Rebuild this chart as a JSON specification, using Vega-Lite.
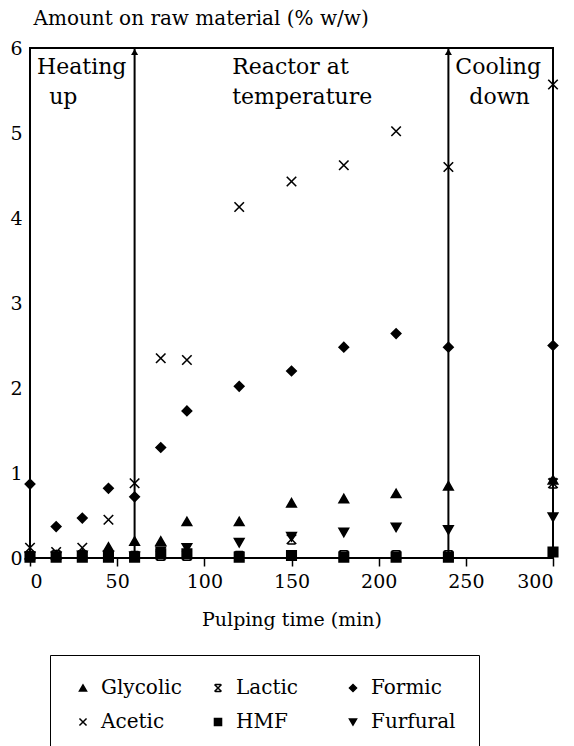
{
  "$schema": "https://vega.github.io/schema/vega-lite/v6.json",
  "width": 523,
  "height": 510,
  "autosize": {"type": "none"},
  "padding": {"left": 30, "top": 48, "right": 21, "bottom": 188},
  "background": "white",
  "config": {
    "view": {"stroke": "black", "strokeWidth": 2},
    "font": "DejaVu Serif",
    "text": {"font": "DejaVu Serif"},
    "axis": {"grid": false, "domain": false, "labelFont": "DejaVu Serif", "titleFont": "DejaVu Serif", "labelColor": "black", "titleColor": "black", "titleFontWeight": "normal", "labelFontSize": 19, "titleFontSize": 19},
    "legend": {"labelFont": "DejaVu Serif", "labelFontSize": 20, "labelColor": "black"}
  },
  "datasets": {
    "series": [
      {"t": 0, "series": "Glycolic", "v": 0.04}, {"t": 15, "series": "Glycolic", "v": 0.04}, {"t": 30, "series": "Glycolic", "v": 0.05}, {"t": 45, "series": "Glycolic", "v": 0.13}, {"t": 60, "series": "Glycolic", "v": 0.2}, {"t": 75, "series": "Glycolic", "v": 0.2}, {"t": 90, "series": "Glycolic", "v": 0.43}, {"t": 120, "series": "Glycolic", "v": 0.43}, {"t": 150, "series": "Glycolic", "v": 0.65}, {"t": 180, "series": "Glycolic", "v": 0.7}, {"t": 210, "series": "Glycolic", "v": 0.76}, {"t": 240, "series": "Glycolic", "v": 0.85}, {"t": 300, "series": "Glycolic", "v": 0.92},
      {"t": 0, "series": "Lactic", "v": 0.02}, {"t": 15, "series": "Lactic", "v": 0.03}, {"t": 30, "series": "Lactic", "v": 0.03}, {"t": 45, "series": "Lactic", "v": 0.02}, {"t": 60, "series": "Lactic", "v": 0.02}, {"t": 75, "series": "Lactic", "v": 0.03}, {"t": 90, "series": "Lactic", "v": 0.03}, {"t": 120, "series": "Lactic", "v": 0.02}, {"t": 150, "series": "Lactic", "v": 0.22}, {"t": 180, "series": "Lactic", "v": 0.03}, {"t": 210, "series": "Lactic", "v": 0.03}, {"t": 240, "series": "Lactic", "v": 0.03}, {"t": 300, "series": "Lactic", "v": 0.88},
      {"t": 0, "series": "Formic", "v": 0.87}, {"t": 15, "series": "Formic", "v": 0.37}, {"t": 30, "series": "Formic", "v": 0.47}, {"t": 45, "series": "Formic", "v": 0.82}, {"t": 60, "series": "Formic", "v": 0.72}, {"t": 75, "series": "Formic", "v": 1.3}, {"t": 90, "series": "Formic", "v": 1.73}, {"t": 120, "series": "Formic", "v": 2.02}, {"t": 150, "series": "Formic", "v": 2.2}, {"t": 180, "series": "Formic", "v": 2.48}, {"t": 210, "series": "Formic", "v": 2.64}, {"t": 240, "series": "Formic", "v": 2.48}, {"t": 300, "series": "Formic", "v": 2.5},
      {"t": 0, "series": "Acetic", "v": 0.12}, {"t": 15, "series": "Acetic", "v": 0.07}, {"t": 30, "series": "Acetic", "v": 0.12}, {"t": 45, "series": "Acetic", "v": 0.45}, {"t": 60, "series": "Acetic", "v": 0.88}, {"t": 75, "series": "Acetic", "v": 2.35}, {"t": 90, "series": "Acetic", "v": 2.33}, {"t": 120, "series": "Acetic", "v": 4.13}, {"t": 150, "series": "Acetic", "v": 4.43}, {"t": 180, "series": "Acetic", "v": 4.62}, {"t": 210, "series": "Acetic", "v": 5.02}, {"t": 240, "series": "Acetic", "v": 4.6}, {"t": 300, "series": "Acetic", "v": 5.57},
      {"t": 0, "series": "HMF", "v": 0.01}, {"t": 15, "series": "HMF", "v": 0.01}, {"t": 30, "series": "HMF", "v": 0.01}, {"t": 45, "series": "HMF", "v": 0.01}, {"t": 60, "series": "HMF", "v": 0.01}, {"t": 75, "series": "HMF", "v": 0.05}, {"t": 90, "series": "HMF", "v": 0.05}, {"t": 120, "series": "HMF", "v": 0.01}, {"t": 150, "series": "HMF", "v": 0.03}, {"t": 180, "series": "HMF", "v": 0.01}, {"t": 210, "series": "HMF", "v": 0.01}, {"t": 240, "series": "HMF", "v": 0.01}, {"t": 300, "series": "HMF", "v": 0.07},
      {"t": 0, "series": "Furfural", "v": 0.02}, {"t": 15, "series": "Furfural", "v": 0.02}, {"t": 30, "series": "Furfural", "v": 0.03}, {"t": 45, "series": "Furfural", "v": 0.03}, {"t": 60, "series": "Furfural", "v": 0.02}, {"t": 75, "series": "Furfural", "v": 0.08}, {"t": 90, "series": "Furfural", "v": 0.12}, {"t": 120, "series": "Furfural", "v": 0.18}, {"t": 150, "series": "Furfural", "v": 0.25}, {"t": 180, "series": "Furfural", "v": 0.3}, {"t": 210, "series": "Furfural", "v": 0.36}, {"t": 240, "series": "Furfural", "v": 0.33}, {"t": 300, "series": "Furfural", "v": 0.48}
    ],
    "phases": [{"t": 60, "v": 6}, {"t": 240, "v": 6}],
    "labels": [
      {"t": 4, "v": 5.78, "label": "Heating"},
      {"t": 11, "v": 5.42, "label": "up"},
      {"t": 116, "v": 5.78, "label": "Reactor at"},
      {"t": 116, "v": 5.42, "label": "temperature"},
      {"t": 244, "v": 5.78, "label": "Cooling"},
      {"t": 252, "v": 5.42, "label": "down"}
    ]
  },
  "layer": [
    {
      "data": {"name": "phases"},
      "mark": {"type": "rule", "color": "black", "strokeWidth": 2},
      "encoding": {"x": {"field": "t", "type": "quantitative"}}
    },
    {
      "data": {"name": "phases"},
      "mark": {"type": "point", "shape": "triangle-up", "filled": true, "color": "black", "size": 50, "yOffset": 4, "opacity": 1},
      "encoding": {
        "x": {"field": "t", "type": "quantitative"},
        "y": {"field": "v", "type": "quantitative"}
      }
    },
    {
      "data": {"name": "series"},
      "mark": {"type": "point", "filled": true, "color": "black", "stroke": "black", "strokeWidth": 1.6, "size": 90, "opacity": 1},
      "encoding": {
        "x": {"field": "t", "type": "quantitative", "scale": {"domain": [0, 300], "nice": false},
          "axis": {"values": [0, 50, 100, 150, 200, 250, 300], "ticks": true, "tickSize": 8, "tickColor": "black", "tickWidth": 1.5, "labelPadding": 6, "title": "Pulping time (min)", "titlePadding": 19}},
        "y": {"field": "v", "type": "quantitative", "scale": {"domain": [0, 6], "nice": false},
          "axis": {"values": [0, 1, 2, 3, 4, 5, 6], "format": "d", "ticks": false, "labelPadding": 8, "title": "Amount on raw material (% w/w)", "titleAngle": 0, "titleAlign": "left", "titleBaseline": "alphabetic", "titleX": 3, "titleY": -24, "titleFontSize": 20}},
        "shape": {"field": "series", "type": "nominal",
          "scale": {"domain": ["Glycolic", "Lactic", "Formic", "Acetic", "HMF", "Furfural"],
            "range": ["triangle-up", "M-1,-1L1,1M-1,1L1,-1M-0.8,-1H0.8M-0.8,1H0.8", "diamond", "M-1,-1L1,1M-1,1L1,-1", "square", "triangle-down"]},
          "legend": {"title": null, "orient": "none", "legendX": 20, "legendY": 607, "columns": 3, "direction": "horizontal", "gridAlign": "all", "strokeColor": "black", "padding": 23, "columnPadding": 22, "rowPadding": 14, "symbolSize": 50, "labelOffset": 8,
            "encode": {"symbols": {"update": {"stroke": {"value": "black"}, "strokeWidth": {"value": 1.5}, "fill": {"value": "black"}, "opacity": {"value": 1}}}}}}
      }
    },
    {
      "data": {"name": "labels"},
      "mark": {"type": "text", "align": "left", "baseline": "middle", "fontSize": 22, "color": "black"},
      "encoding": {
        "x": {"field": "t", "type": "quantitative"},
        "y": {"field": "v", "type": "quantitative"},
        "text": {"field": "label"}
      }
    }
  ]
}
